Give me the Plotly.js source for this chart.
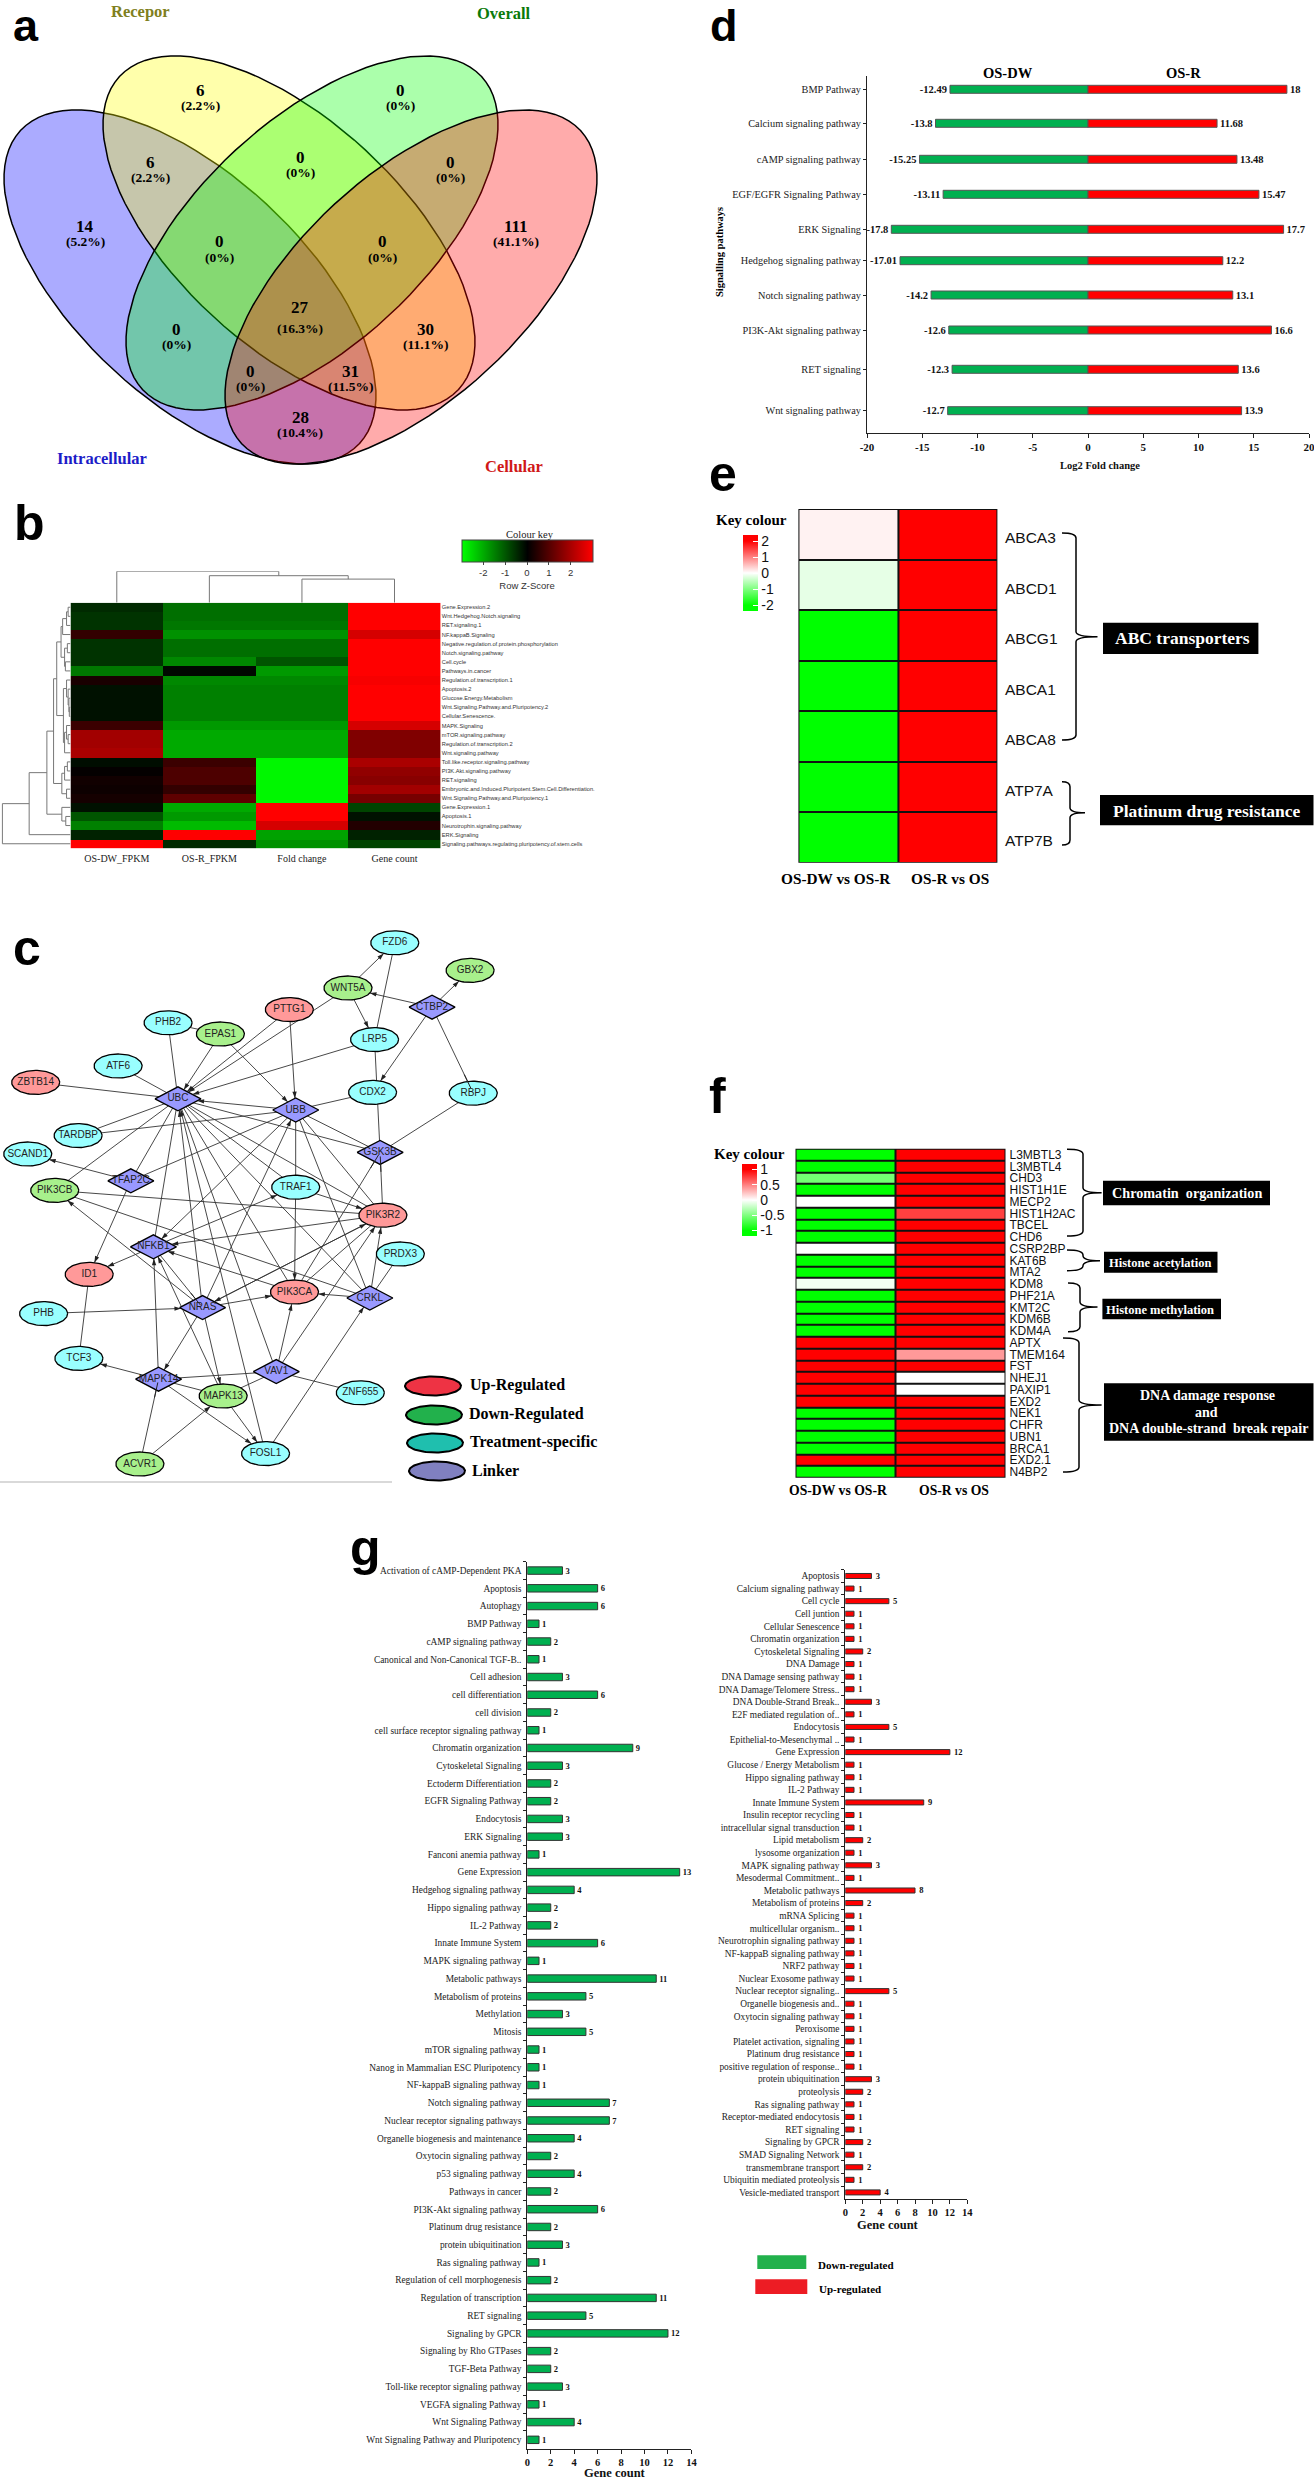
<!DOCTYPE html>
<html><head><meta charset="utf-8">
<script src="https://cdn.plot.ly/plotly-3.0.1.min.js"></script>
<style>html,body{margin:0;padding:0;background:#fff}</style></head>
<body><div id="g" style="width:1314px;height:2481px"></div>
<script>
// ---------- DATA ----------
const vennCounts=[6,0,14,6,0,0,111,0,0,0,27,30,0,31,28];
const vennPct=['(2.2%)','(0%)','(5.2%)','(2.2%)','(0%)','(0%)','(41.1%)','(0%)','(0%)','(0%)','(16.3%)','(11.1%)','(0%)','(11.5%)','(10.4%)'];
const vennSets=['Recepor','Overall','Intracellular','Cellular'];

const dPath=['BMP Pathway','Calcium signaling pathway','cAMP signaling pathway','EGF/EGFR Signaling Pathway','ERK Signaling','Hedgehog signaling pathway','Notch signaling pathway','PI3K-Akt signaling pathway','RET signaling','Wnt signaling pathway'];
const dDown=[-12.49,-13.8,-15.25,-13.11,-17.8,-17.01,-14.2,-12.6,-12.3,-12.7];
const dUp=[18,11.68,13.48,15.47,17.7,12.2,13.1,16.6,13.6,13.9];
const dTicks=[-20,-15,-10,-5,0,5,10,15,20];

const bRows=['Gene.Expression.2','Wnt.Hedgehog.Notch.signaling','RET.signaling.1','NF.kappaB.Signaling','Negative.regulation.of.protein.phosphorylation','Notch.signaling.pathway','Cell.cycle','Pathways.in.cancer','Regulation.of.transcription.1','Apoptosis.2','Glucose.Energy.Metabolism','Wnt.Signaling.Pathway.and.Pluripotency.2','Cellular.Senescence.','MAPK.Signaling','mTOR.signaling.pathway','Regulation.of.transcription.2','Wnt.signaling.pathway','Toll.like.receptor.signaling.pathway','PI3K.Akt.signaling.pathway','RET.signaling','Embryonic.and.Induced.Pluripotent.Stem.Cell.Differentiation.','Wnt.Signaling.Pathway.and.Pluripotency.1','Gene.Expression.1','Apoptosis.1','Neurotrophin.signaling.pathway','ERK.Signaling','Signaling.pathways.regulating.pluripotency.of.stem.cells'];
const bCols=['OS-DW_FPKM','OS-R_FPKM','Fold change','Gene count'];
const bDW=[-0.5,-0.6,-0.6,0.6,-0.6,-0.6,-0.6,-1.4,0.3,-0.2,-0.2,-0.2,-0.2,0.7,1.9,1.9,2.0,-0.15,0.05,0.2,0.15,0.25,-0.2,-1,-1.5,-0.4,3];
const bR=[-1.3,-1.3,-1.4,-1.7,-1.3,-1.3,-1.6,-0.1,-1.6,-1.5,-1.5,-1.5,-1.5,-1.8,-2,-2,-2,0.7,0.9,0.9,0.6,1.1,-2,-1.8,-2.2,3,-0.5];
const bFC=[-1.3,-1.3,-1.4,-1.7,-1.3,-1.3,-1.0,-1.8,-1.6,-1.5,-1.5,-1.5,-1.5,-1.8,-2,-2,-2,-2.9,-2.9,-2.9,-2.9,-2.9,3,3,2.5,-1.9,-1.7];
const bGC=[3,3,3,2.5,3,3,3,3,2.9,3,3,3,3,2.5,1.5,1.5,1.5,2,1.7,1.6,1.9,1.4,-0.8,-0.2,0.4,-0.4,-0.8];
const bColTree=[31.4,0,[27,1,[23.6,2,3]]];
const bRowTree=[173,[105,[60,[43,[35,[24,[20,[10,[6,0,1],2],3],[15,[8,4,5],[13,6,7]]],[18,[10,8,[6,9,[4,10,[3,11,12]]]],[15,[10,13,[6,14,15]],16]]],[22,[15,[8,17,18],19],[10,20,21]]],[22,22,[12,23,24]]],25],26];

const cNames=['FZD6','GBX2','WNT5A','PTTG1','CTBP2','PHB2','EPAS1','LRP5','ATF6','ZBTB14','UBC','CDX2','RBPJ','UBB','TARDBP','SCAND1','GSK3B','TFAP2C','TRAF1','PIK3CB','PIK3R2','NFKB1','PRDX3','ID1','PIK3CA','CRKL','NRAS','PHB','TCF3','VAV1','MAPK14','MAPK13','ZNF655','FOSL1','ACVR1'];
const cKinds=['T','D','D','U','L','T','D','T','T','U','L','T','T','L','T','T','L','L','T','D','U','L','T','U','U','L','L','T','T','L','L','D','T','T','D'];
const cArrows=[['WNT5A','FZD6'],['CTBP2','GBX2'],['CTBP2','WNT5A'],['WNT5A','LRP5'],['WNT5A','UBC'],['PTTG1','UBC'],['PTTG1','UBB'],['EPAS1','UBC'],['EPAS1','UBB'],['LRP5','UBC'],['CTBP2','CDX2'],['UBB','UBC'],['TFAP2C','SCAND1'],['TFAP2C','ID1'],['NRAS','UBC'],['FOSL1','UBC'],['UBB','NFKB1'],['NRAS','UBB'],['NRAS','PIK3CB'],['TRAF1','PIK3R2'],['TRAF1','PIK3CA'],['NFKB1','TRAF1'],['PIK3R2','NFKB1'],['NFKB1','ID1'],['PIK3CA','NFKB1'],['NRAS','PIK3R2'],['PIK3R2','NRAS'],['NRAS','PIK3CA'],['PHB','NRAS'],['NRAS','MAPK14'],['NRAS','MAPK13'],['CRKL','PIK3CA'],['CRKL','PIK3R2'],['VAV1','PIK3CA'],['VAV1','PIK3R2'],['MAPK14','NFKB1'],['MAPK14','TCF3'],['MAPK14','FOSL1'],['MAPK13','NFKB1'],['MAPK13','FOSL1'],['ACVR1','MAPK13'],['FOSL1','CRKL']];
const cTees=[['CTBP2','RBPJ'],['PIK3R2','GSK3B'],['PIK3CA','GSK3B'],['NFKB1','NRAS'],['ACVR1','MAPK14']];
const cPlain=[['FZD6','LRP5'],['PHB2','EPAS1'],['PHB2','UBC'],['LRP5','GSK3B'],['RBPJ','GSK3B'],['CDX2','UBB'],['ATF6','UBC'],['ZBTB14','UBC'],['TARDBP','UBC'],['TARDBP','UBB'],['UBC','GSK3B'],['UBB','GSK3B'],['UBC','PIK3CB'],['UBC','TFAP2C'],['TFAP2C','UBB'],['UBC','NFKB1'],['UBC','PIK3R2'],['UBC','TRAF1'],['UBC','PIK3CA'],['UBC','CRKL'],['UBC','VAV1'],['UBB','PIK3R2'],['UBB','TRAF1'],['UBB','CRKL'],['PIK3CB','PIK3R2'],['PIK3CB','CRKL'],['PIK3CA','PIK3R2'],['CRKL','PRDX3'],['VAV1','ZNF655'],['VAV1','MAPK13'],['VAV1','MAPK14'],['MAPK14','MAPK13'],['ID1','TCF3']];
const cLegend=['Up-Regulated','Down-Regulated','Treatment-specific','Linker'];

const eGenes=['ABCA3','ABCD1','ABCG1','ABCA1','ABCA8','ATP7A','ATP7B'];
const eCompare=['OS-DW vs OS-R','OS-R vs OS'];
const eCol1=[0.1,-0.2,-2,-2,-2,-2,-2];
const eCol2=[2,2,2,2,2,2,2];

const fGenes=['L3MBTL3','L3MBTL4','CHD3','HIST1H1E','MECP2','HIST1H2AC','TBCEL','CHD6','CSRP2BP','KAT6B','MTA2','KDM8','PHF21A','KMT2C','KDM6B','KDM4A','APTX','TMEM164','FST','NHEJ1','PAXIP1','EXD2','NEK1','CHFR','UBN1','BRCA1','EXD2.1','N4BP2'];
const fCol1=[-1,-1,-0.55,-1,0,-1,-1,-1,0,-1,-1,-0.05,-1,-1,-1,-1,1,1,1,1,1,1,-1,-1,-1,-1,1,-1];
const fCol2=[1,1,1,1,1,0.75,1,1,1,1,1,1,1,1,1,1,1,0.4,1,0,0,1,1,1,1,1,1,1];

const gDownNames=['Activation of cAMP-Dependent PKA','Apoptosis','Autophagy','BMP Pathway','cAMP signaling pathway','Canonical and Non-Canonical TGF-B..','Cell adhesion','cell differentiation','cell division','cell surface receptor signaling pathway','Chromatin organization','Cytoskeletal Signaling','Ectoderm Differentiation','EGFR Signaling Pathway','Endocytosis','ERK Signaling','Fanconi anemia pathway','Gene Expression','Hedgehog signaling pathway','Hippo signaling pathway','IL-2 Pathway','Innate Immune System','MAPK signaling pathway','Metabolic pathways','Metabolism of proteins','Methylation','Mitosis','mTOR signaling pathway','Nanog in Mammalian ESC Pluripotency','NF-kappaB signaling pathway','Notch signaling pathway','Nuclear receptor signaling pathways','Organelle biogenesis and maintenance','Oxytocin signaling pathway','p53 signaling pathway','Pathways in cancer','PI3K-Akt signaling pathway','Platinum drug resistance','protein ubiquitination','Ras signaling pathway','Regulation of cell morphogenesis','Regulation of transcription','RET signaling','Signaling by GPCR','Signaling by Rho GTPases','TGF-Beta Pathway','Toll-like receptor signaling pathway','VEGFA signaling Pathway','Wnt Signaling Pathway','Wnt Signaling Pathway and Pluripotency'];
const gDownVals=[3,6,6,1,2,1,3,6,2,1,9,3,2,2,3,3,1,13,4,2,2,6,1,11,5,3,5,1,1,1,7,7,4,2,4,2,6,2,3,1,2,11,5,12,2,2,3,1,4,1];
const gUpNames=['Apoptosis','Calcium signaling pathway','Cell cycle','Cell juntion','Cellular Senescence','Chromatin organization','Cytoskeletal Signaling','DNA Damage','DNA Damage sensing pathway','DNA Damage/Telomere Stress..','DNA Double-Strand Break..','E2F mediated regulation of..','Endocytosis','Epithelial-to-Mesenchymal ..','Gene Expression','Glucose / Energy Metabolism','Hippo signaling pathway','IL-2 Pathway','Innate Immune System','Insulin receptor recycling','intracellular signal transduction','Lipid metabolism','lysosome organization','MAPK signaling pathway','Mesodermal Commitment..','Metabolic pathways','Metabolism of proteins','mRNA Splicing','multicellular organism..','Neurotrophin signaling pathway','NF-kappaB signaling pathway','NRF2 pathway','Nuclear Exosome pathway','Nuclear receptor signaling..','Organelle biogenesis and..','Oxytocin signaling pathway','Peroxisome','Platelet activation, signaling','Platinum drug resistance','positive regulation of response..','protein ubiquitination','proteolysis','Ras signaling pathway','Receptor-mediated endocytosis','RET signaling','Signaling by GPCR','SMAD Signaling Network','transmembrane transport','Ubiquitin mediated proteolysis','Vesicle-mediated transport'];
const gUpVals=[3,1,5,1,1,1,2,1,1,1,3,1,5,1,12,1,1,1,9,1,1,2,1,3,1,8,2,1,1,1,1,1,1,5,1,1,1,1,1,1,3,2,1,1,1,2,1,2,1,4];

// ---------- LAYOUT POSITIONS (page pixels) ----------
const W=1314,H=2481,SERIF='Liberation Serif',SANS='Liberation Sans';
const vennNumXY=[[200,90],[400,90],[85,226],[150,162],[300,157],[450,162],[516,226],[219,241],[382,241],[176,329],[300,307],[425,329],[250,371],[350,371],[300,417]];
const vennPctY=[105,105,241,177,172,177,241,257,257,344,328,344,386,386,432];
const vennEll=[{c:[190,287],s:42.7,f:'rgba(0,0,255,0.33)'},{c:[289,233],s:42.7,f:'rgba(255,255,0,0.33)'},{c:[312,233],s:-42.7,f:'rgba(0,255,0,0.33)'},{c:[411,287],s:-42.7,f:'rgba(255,0,0,0.33)'}];
const vennSetPos=[[140,9,'#7f7f20'],[504,11,'#0a7a0a'],[102,456,'#1c1cc8'],[514,464,'#d01818']];
const dRowY=[89.3,123.3,159.3,194.3,229.3,260.7,295,330,369.3,410.7];
const cZoomXY=[[996,157],[1186,226],[878,270],[730,324],[1090,318],[424,357],[556,385],[945,399],[298,465],[90,506],[449,547],[940,531],[1194,533],[746,575],[197,639],[70,685],[959,681],[330,752],[746,768],[138,776],[966,838],[387,917],[1010,935],[225,986],[743,1030],[933,1045],[511,1069],[110,1084],[199,1196],[697,1229],[400,1248],[563,1290],[909,1282],[670,1434],[353,1460]];
const cPos={};cNames.forEach((n,i)=>cPos[n]=[cZoomXY[i][0]/2.523,880+cZoomXY[i][1]/2.5]);
const cFill={T:'#99ffff',D:'#a8f08c',U:'#ff9999',L:'#9999ff'};

function dom(a,b){return [a/W,b/W];}
function vdom(t,b){return [1-b/H,1-t/H];}
const noAxis={visible:false,fixedrange:true,showgrid:false,zeroline:false};
const hy=v=>String(v);

const data=[],ann=[],shapes=[];
function T(text,x,y,size,opt={}){ann.push({text:String(text),x,y,xref:'x',yref:'y',showarrow:false,
  xanchor:opt.xa||'center',yanchor:'middle',textangle:opt.rot||0,align:'center',
  font:{family:opt.fam||SERIF,size,color:opt.col||'#000',weight:opt.w||400}});}
function poly(xs,ys,fill,lw){data.push({type:'scatter',mode:'lines',x:xs,y:ys,fill:'toself',fillcolor:fill,line:{color:'#000',width:lw},hoverinfo:'skip',xaxis:'x',yaxis:'y'});}
function ellipse(cx,cy,a,b,deg,fill,lw){const xs=[],ys=[],r=deg*Math.PI/180;
  for(let k=0;k<=96;k++){const t=k/96*2*Math.PI,u=a*Math.cos(t),v=b*Math.sin(t);
    xs.push(cx+u*Math.cos(r)-v*Math.sin(r));ys.push(cy+u*Math.sin(r)+v*Math.cos(r));}
  poly(xs,ys,fill,lw);}

// ---------- a: VENN ----------
vennEll.forEach(e=>ellipse(e.c[0],e.c[1],230.7,112.8,e.s,e.f,1.5));
vennCounts.forEach((n,i)=>{T(n,vennNumXY[i][0],vennNumXY[i][1],17,{w:700});T(vennPct[i],vennNumXY[i][0],vennPctY[i],13.5,{w:700});});
vennSets.forEach((s,i)=>T(s,vennSetPos[i][0],vennSetPos[i][1]+2,16.5,{w:700,col:vennSetPos[i][2]}));

// ---------- c: NETWORK ----------
function trim(s,t){const dx=cPos[s][0]-cPos[t][0],dy=cPos[s][1]-cPos[t][1];
  const kind=cKinds[cNames.indexOf(t)],a=kind==='L'?23:24,b=12;
  const f=kind==='L'?1/(Math.abs(dx)/a+Math.abs(dy)/b):1/Math.sqrt(dx*dx/(a*a)+dy*dy/(b*b));
  return {x:cPos[t][0]+dx*f,y:cPos[t][1]+dy*f,ang:Math.atan2(-dx,dy)*180/Math.PI};}
const ex=[],ey=[];
cPlain.forEach(([s,t])=>{ex.push(cPos[s][0],cPos[t][0],null);ey.push(cPos[s][1],cPos[t][1],null);});
const ax=[],ay=[],aa=[],tx=[],ty=[],ta=[];
cArrows.forEach(([s,t])=>{const p=trim(s,t);ex.push(cPos[s][0],p.x,null);ey.push(cPos[s][1],p.y,null);ax.push(p.x);ay.push(p.y);aa.push(p.ang);});
cTees.forEach(([s,t])=>{const p=trim(s,t);ex.push(cPos[s][0],p.x,null);ey.push(cPos[s][1],p.y,null);tx.push(p.x);ty.push(p.y);ta.push(p.ang+90);});
data.push({type:'scatter',mode:'lines',x:ex,y:ey,line:{color:'#333',width:0.9},hoverinfo:'skip',xaxis:'x',yaxis:'y'});
cNames.forEach((n,i)=>{const [x,y]=cPos[n],k=cKinds[i];
  if(k==='L')poly([x-23,x,x+23,x,x-23],[y,y-12,y,y+12,y],cFill.L,1.3);
  else ellipse(x,y,24,12,0,cFill[k],1.3);});
data.push({type:'scatter',mode:'markers',x:ax,y:ay,marker:{symbol:'arrow',angle:aa,size:7,color:'#222',line:{width:0}},hoverinfo:'skip',xaxis:'x',yaxis:'y'});
data.push({type:'scatter',mode:'markers',x:tx,y:ty,marker:{symbol:'line-ew',angle:ta,size:11,line:{width:1,color:'#222'}},hoverinfo:'skip',xaxis:'x',yaxis:'y'});
data.push({type:'scatter',mode:'text',x:cNames.map(n=>cPos[n][0]),y:cNames.map(n=>cPos[n][1]),text:cNames,textposition:'middle center',textfont:{family:SANS,size:10,color:'#222'},hoverinfo:'skip',xaxis:'x',yaxis:'y'});
const legXY=[[433,1386],[434,1415],[435,1443],[437,1471]],legCol=['#ee3344','#22b14c','#1fbfae','#8080c0'],legTX=[468,467,468,470];
cLegend.forEach((s,i)=>{ellipse(legXY[i][0],legXY[i][1],28,9.5,0,legCol[i],2);T(s,legTX[i],legXY[i][1]-1,16,{xa:'left',w:700});});
shapes.push({type:'line',xref:'x',yref:'y',x0:0,x1:392,y0:1482,y1:1482,line:{color:'#ccc',width:1.5}});

// ---------- b: HEATMAP ----------
const bZ=bRows.map((_,i)=>[bDW[i],bR[i],bFC[i],bGC[i]]);
const bKey=[-2,-1,0,1,2];
data.push({type:'heatmap',x:bCols,y:bRows,z:bZ,zmin:-3,zmax:3,xaxis:'x3',yaxis:'y3',hoverinfo:'skip',
  colorscale:[[0,'#00ff00'],[0.5,'#000000'],[1,'#ff0000']],
  colorbar:{orientation:'h',x:527/W,xanchor:'center',y:1-540/H,yanchor:'top',lenmode:'pixels',len:131,thicknessmode:'pixels',thickness:22,xpad:0,ypad:0,
    outlinewidth:1,outlinecolor:'#444',tickmode:'array',tickvals:bKey,ticktext:bKey.map(hy),ticks:'outside',ticklen:3,tickfont:{family:SANS,size:9.5,color:'#333'},title:{text:'Row Z-Score',side:'bottom',font:{family:SANS,size:9.5,color:'#333'}}}});
T('Colour key',530,534,10.5,{col:'#222'});
function walk(n,hz,cb){ if(typeof n==='number')return {p:n,h:0};
  const a=walk(n[1],hz,cb),b=walk(n[2],hz,cb);cb(a,b,n[0]);return {p:(a.p+b.p)/2,h:n[0]};}
const tx1=[],ty1=[];walk(bColTree,0,(a,b,h)=>{tx1.push(a.p,a.p,b.p,b.p,null);ty1.push(a.h,h,h,b.h,null);});
data.push({type:'scatter',mode:'lines',x:tx1,y:ty1,line:{color:'#777',width:1},hoverinfo:'skip',xaxis:'x4',yaxis:'y4'});
const lx=[],ly=[];walk(bRowTree,0,(a,b,h)=>{lx.push(a.h,h,h,b.h,null);ly.push(a.p,a.p,b.p,b.p,null);});
data.push({type:'scatter',mode:'lines',x:lx,y:ly,line:{color:'#777',width:1},hoverinfo:'skip',xaxis:'x5',yaxis:'y5'});

// ---------- d: DIVERGING BARS ----------
const barOpts=(vals,col)=>({type:'bar',orientation:'h',x:vals,y:dRowY,width:8,marker:{color:col,line:{color:'#555',width:1}},text:vals.map(String),textposition:'outside',constraintext:'none',cliponaxis:false,
  textfont:{family:SERIF,size:10.5,color:'#111',weight:700},hoverinfo:'skip',xaxis:'x2',yaxis:'y2'});
data.push(barOpts(dDown,'#00b050'),barOpts(dUp,'#ff0000'));
T('OS-DW',1007.5,73,14.5,{w:700});T('OS-R',1183,73,14.5,{w:700});
T('Signalling pathways',719,252,10.5,{w:700,rot:-90});
T('Log2 Fold change',1100,465,10.5,{w:700,col:'#111'});

// ---------- e / f: HEATMAPS ----------
const ryg=(lim,top)=>[[0,'#00ff00'],[(lim-top)/(2*lim),'#00ff00'],[0.5,'#ffffff'],[(lim+top)/(2*lim),'#ff0000'],[1,'#ff0000']];
function cbar(x,yTop,len,vals){return {x:x/W,xanchor:'left',y:1-yTop/H,yanchor:'top',lenmode:'pixels',len,thicknessmode:'pixels',thickness:15,xpad:0,ypad:0,outlinewidth:0,
  tickmode:'array',tickvals:vals,ticktext:vals.map(hy),ticks:'inside',ticklen:5,tickcolor:'#fff',tickfont:{family:SANS,size:14,color:'#111'}};}
data.push({type:'heatmap',x:[0,1],y:eGenes,z:eGenes.map((_,i)=>[eCol1[i],eCol2[i]]),xgap:2,ygap:2,zmin:-2.37,zmax:2.37,colorscale:ryg(2.37,2),xaxis:'x6',yaxis:'y6',hoverinfo:'skip',colorbar:cbar(743,535.3,76.4,[-2,-1,0,1,2])});
data.push({type:'heatmap',x:[0,0.95,2],y:fGenes,z:fGenes.map((_,i)=>[fCol1[i],fCol2[i]]),xgap:2,ygap:2,zmin:-1.18,zmax:1.18,colorscale:ryg(1.18,1),xaxis:'x7',yaxis:'y7',hoverinfo:'skip',colorbar:cbar(742,1164,71.7,[-1,-0.5,0,0.5,1])});
shapes.push({type:'rect',layer:'below',xref:'x6 domain',yref:'y6 domain',x0:0,x1:1,y0:0,y1:1,fillcolor:'#111',line:{width:0}});
shapes.push({type:'rect',layer:'below',xref:'x7 domain',yref:'y7 domain',x0:0,x1:1,y0:0,y1:1,fillcolor:'#111',line:{width:0}});
eGenes.forEach((g,i)=>T(g,1003,509+(i+0.5)*50.53+3.5,15.5,{xa:'left',fam:SANS,col:'#111'}));
T('Key colour',751,520,15,{w:700});T('Key colour',749,1154,15,{w:700});
T(eCompare[0],836,878,15.3,{w:700});T(eCompare[1],949.6,878,15.3,{w:700});
T(eCompare[0],838,1490,13.7,{w:700});T(eCompare[1],954.4,1490,13.7,{w:700});
function brace(x0,xv,xt,yt,ym,yb){const r=5;shapes.push({type:'path',xref:'x',yref:'y',line:{color:'#000',width:1.5},
  path:`M${x0},${yt} Q${xv},${yt} ${xv},${yt+r} L${xv},${ym-r} Q${xv},${ym} ${xt},${ym} Q${xv},${ym} ${xv},${ym+r} L${xv},${yb-r} Q${xv},${yb} ${x0},${yb}`});}
function box(x0,x1,y0,y1){shapes.push({type:'rect',xref:'x',yref:'y',x0,x1,y0,y1,fillcolor:'#000',line:{width:0}});}
brace(1062,1076,1097.5,533,636.7,740);brace(1062,1070,1085,781.7,812.7,845);
box(1103,1258.4,622.7,654);T('ABC transporters',1182.6,638,17.5,{w:700,col:'#fff'});
box(1100,1313.5,795,825.3);T('Platinum drug resistance',1207,811,17.5,{w:700,col:'#fff'});
brace(1067,1083,1101.6,1149.3,1192.7,1236);brace(1067,1083,1100,1250,1260.7,1270.7);brace(1068,1080,1097.5,1283,1307,1331.7);brace(1063,1079,1101.6,1338,1405,1472);
box(1103,1270,1180.7,1205.3);T('Chromatin&nbsp;&nbsp;organization',1187,1193,14.2,{w:700,col:'#fff'});
box(1104,1217.5,1251.7,1272.7);T('Histone acetylation',1159.5,1262.7,12.5,{w:700,col:'#fff'});
box(1102.4,1221,1298.7,1319.3);T('Histone methylation',1160,1309.7,12.5,{w:700,col:'#fff'});
box(1104,1313.5,1383.3,1440.7);
T('DNA damage response',1207.8,1395.7,14,{w:700,col:'#fff'});T('and',1206,1412.7,14,{w:700,col:'#fff'});T('DNA double-strand&nbsp;&nbsp;break repair',1208.6,1428.7,14,{w:700,col:'#fff'});

// ---------- g: GENE COUNTS ----------
function gBars(names,vals,col,w,xa,ya,pad){data.push({type:'bar',orientation:'h',x:vals,y:names,width:w,marker:{color:col,line:{color:'#333',width:1}},text:vals.map(v=>pad+v),textposition:'outside',constraintext:'none',cliponaxis:false,
  textfont:{family:SERIF,size:8.5,color:'#111',weight:700},hoverinfo:'skip',xaxis:xa,yaxis:ya});}
gBars(gDownNames,gDownVals,'#00b050',0.42,'x8','y8','');
gBars(gUpNames,gUpVals,'#ff0000',0.4,'x9','y9','&nbsp;&nbsp;');
shapes.push({type:'rect',xref:'x',yref:'y',x0:757.3,x1:806.3,y0:2255.3,y1:2269,fillcolor:'#22b14c',line:{width:0}});
shapes.push({type:'rect',xref:'x',yref:'y',x0:755.3,x1:807.3,y0:2279.3,y1:2294,fillcolor:'#ed1c24',line:{width:0}});
T('Down-regulated',816,2264.7,11,{xa:'left',w:700});T('Up-regulated',816.7,2288.7,11,{xa:'left',w:700});
T('Gene count',615,2473,12.5,{w:700,col:'#111'});T('Gene count',888,2225,12.5,{w:700,col:'#111'});

// ---------- panel letters ----------
[['a',11,41,45],['b',12,540,50],['c',11,965,50],['d',708,41,45],['e',707,491,50],['f',707,1113,50],['g',348,1565,50]].forEach(([l,x,base,fs])=>T(l,x,base-0.3465*fs,fs,{xa:'left',fam:SANS,w:700}));

// ---------- axes ----------
const xt=(o)=>Object.assign({fixedrange:true,showgrid:false,zeroline:false,showline:true,linecolor:'#222',linewidth:1,ticks:'outside',ticklen:4,tickcolor:'#222'},o);
function gAxes(xd,yt,yb,anchorX,anchorY){return [
  xt({domain:xd,range:[0,14],anchor:anchorY,dtick:2,tick0:0,tickfont:{family:SERIF,size:10.5,weight:700,color:'#111'}}),
  xt({domain:vdom(yt,yb),type:'category',autorange:'reversed',anchor:anchorX,tickmode:'linear',tick0:0,dtick:1,tickson:'boundaries',ticklen:3,ticklabelstandoff:3,tickfont:{family:SERIF,size:9.4,color:'#222'}})];}
const [x8,y8]=gAxes(dom(527.3,691.4),1561.7,2448.7,'x8','y8');
const [x9,y9]=gAxes(dom(845.3,967.3),1569.7,2198.7,'x9','y9');

const layout={width:W,height:H,margin:{l:0,r:0,t:0,b:0,pad:0},paper_bgcolor:'#fff',plot_bgcolor:'rgba(0,0,0,0)',showlegend:false,barmode:'overlay',hovermode:false,annotations:ann,shapes,
  xaxis:Object.assign({},noAxis,{domain:[0,1],range:[0,W],anchor:'y'}),
  yaxis:Object.assign({},noAxis,{domain:[0,1],range:[H,0],anchor:'x'}),
  xaxis2:xt({domain:dom(867,1309),range:[-20,20],anchor:'y2',tickmode:'array',tickvals:dTicks,ticktext:dTicks.map(hy),ticklabeloverflow:'allow',tickfont:{family:SERIF,size:11,weight:700,color:'#111'}}),
  yaxis2:xt({domain:vdom(76,432.7),range:[432.7,76],anchor:'x2',tickmode:'array',tickvals:dRowY,ticktext:dPath,tickfont:{family:SERIF,size:10.3,color:'#222'},ticklen:3}),
  xaxis3:{domain:dom(70.5,440.8),anchor:'y3',type:'category',fixedrange:true,showgrid:false,zeroline:false,ticks:'',ticklabelstandoff:3,tickfont:{family:SERIF,size:10,color:'#222'}},
  yaxis3:{domain:vdom(602.7,848.3),anchor:'x3',type:'category',side:'right',autorange:'reversed',fixedrange:true,showgrid:false,zeroline:false,ticks:'',tickmode:'linear',tick0:0,dtick:1,tickfont:{family:SANS,size:5.7,color:'#333'}},
  xaxis4:Object.assign({},noAxis,{domain:dom(70.5,440.8),range:[-0.5,3.5],anchor:'y4'}),
  yaxis4:Object.assign({},noAxis,{domain:vdom(571.3,602.7),range:[0,31.4],anchor:'x4'}),
  xaxis5:Object.assign({},noAxis,{domain:dom(1.2,70.5),range:[176,0],anchor:'y5'}),
  yaxis5:Object.assign({},noAxis,{domain:vdom(602.7,848.3),range:[26.5,-0.5],anchor:'x5'}),
  xaxis6:{domain:dom(798.4,997.4),range:[-0.5,1.5],anchor:'y6',visible:false,fixedrange:true},
  yaxis6:{domain:vdom(509,862.7),type:'category',autorange:'reversed',anchor:'x6',visible:false,fixedrange:true},
  xaxis7:{domain:dom(795.5,1005.5),range:[0,2],anchor:'y7',visible:false,fixedrange:true},
  yaxis7:{domain:vdom(1148.7,1477.7),type:'category',autorange:'reversed',anchor:'x7',side:'right',showline:false,showgrid:false,zeroline:false,ticks:'',ticklabelstandoff:3,tickmode:'linear',tick0:0,dtick:1,fixedrange:true,tickfont:{family:SANS,size:12,color:'#111'}},
  xaxis8:x8,yaxis8:y8,xaxis9:x9,yaxis9:y9};
Plotly.newPlot('g',data,layout,{staticPlot:true,displayModeBar:false});
</script></body></html>
